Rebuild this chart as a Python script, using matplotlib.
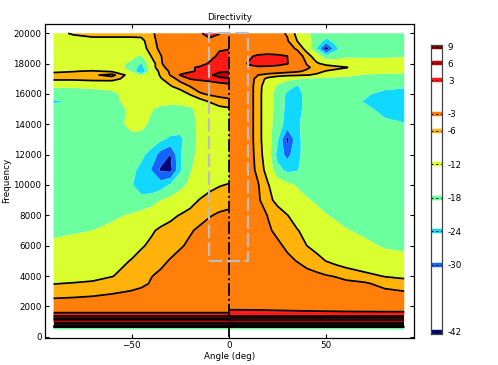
import numpy as np
import matplotlib
matplotlib.use("Agg")
import matplotlib.pyplot as plt

# ---------------- data ----------------
levels = [-42, -30, -24, -18, -12, -6, -3, 3, 6, 9]
level_labels = ["-42", "-30", "-24", "-18", "-12", "-6", "-3", "3", "6", "9"]
level_colors = ["#00087A", "#1464FF", "#10D8FF", "#6BFF9E", "#DAFF2F",
                "#FFB30A", "#FF7F0A", "#FF1A14", "#C00000", "#7F0000"]
line_levels = [-6, -3, 3, 6, 9]

angles_left = [-90, -80, -70, -60, -50, -45, -40, -35, -30, -25, -20, -15, -10, -5, 0]
angles_right = [0, 5, 10, 15, 20, 25, 30, 35, 40, 45, 50, 55, 60, 70, 80, 90]

freqs_upper = [20000, 19500, 19000, 18500, 18000, 17750, 17500, 17250, 17000, 16500,
               16000, 15500, 15000, 14000, 13000, 12000, 11000, 10000, 9000, 8000,
               7000, 6000, 5000, 4000, 3500, 3000, 2500, 2000, 1750]

db_left_upper = [
    [-7.5, -5.5, -5, -5, -5, -5, -4, -1, 0, 0.5, 1, 2.5, 4.5, 3.2, 1],          # 20000
    [-9, -8, -7, -7, -7, -6.8, -4.5, -1.5, 0, 0.5, 1, 1.5, 2, 1.5, 0.5],        # 19500
    [-9, -9, -9, -9, -8.5, -7.2, -5, -2, 0, 0.5, 1, 1.5, 2, 2.5, 2.8],          # 19000
    [-9, -9, -9, -9.5, -11, -12.5, -6, -3.2, -0.5, 0, 0.5, 1, 1.5, 3.8, 4.5],   # 18500
    [-9, -9, -9, -10, -12.8, -18.5, -8, -3.5, -0.5, 0, 0.5, 1.5, 3.5, 5, 5.5],  # 18000
    [-9, -9, -9, -10, -13.2, -21, -7.5, -4.2, -1.5, 1, 2.5, 3.5, 4.5, 5, 5.5],  # 17750
    [-6.8, -6.2, -5.6, -6.5, -12.5, -25, -9, -5, -2.5, 0.5, 2.5, 3.5, 4.5, 5.5, 5.8],  # 17500
    [-4.5, -4.5, -3.5, -2, -8, -12.5, -9, -5.5, -2.8, 3.5, 4.5, 5, 5.5, 7, 7.5],  # 17250
    [-5.0, -5.0, -4.5, -4.5, -8, -9.5, -9, -6.3, -4.2, -2, 3.3, 4, 4.5, 5.2, 5.8],  # 17000
    [-11.5, -11.5, -11, -10.5, -9, -9, -8.5, -8, -6.3, -4.5, -3, -1, 0, 1, 1.5],  # 16500
    [-14, -14, -14, -13, -10, -9.5, -9.5, -10, -9, -8, -5.7, -3.5, -2.5, -2, -1.5],  # 16000
    [-19, -17, -15, -13.5, -10, -9, -9, -10, -10.5, -10, -9, -7.5, -5.8, -4.5, -4],  # 15500
    [-15, -17, -16, -14.5, -11, -10, -11.5, -13.5, -14, -14, -13, -10.5, -8.5, -7, -6.5],  # 15000
    [-15, -15.5, -16, -14.5, -10.5, -10.5, -13, -15, -15, -14.5, -13.5, -11, -9.5, -9, -8.5],  # 14000
    [-15, -15, -15.5, -15, -13.5, -14, -15.5, -17, -19, -19.5, -14, -11, -9.5, -9, -8.5],  # 13000
    [-15, -15, -15, -15.5, -16, -17, -19.5, -26.5, -30.2, -18.5, -13, -11, -9.5, -9, -8.5],  # 12000
    [-15, -15, -15, -15.5, -17, -19, -24, -31, -32, -19, -12.5, -10, -9, -8.5, -8],  # 11000
    [-15, -15, -15, -15.5, -17.5, -21, -22, -21, -17, -13.5, -11, -8.5, -7, -6.2, -5.8],  # 10000
    [-15, -15, -14.5, -14, -16, -16, -15, -12, -10.5, -9, -7.5, -5.8, -4.8, -4.4, -4.2],  # 9000
    [-14.5, -14, -13.5, -12.8, -11.5, -10, -8.5, -7.5, -6.8, -5.8, -4.8, -4, -3.2, -2.6, -2.2],  # 8000
    [-13, -12.5, -12, -11, -9.5, -8, -6.4, -5.5, -4.8, -4, -3.3, -2.5, -1.8, -1.2, -1],  # 7000
    [-11, -10.5, -10, -9, -7.5, -6.3, -5.5, -4.8, -4, -3.3, -2.5, -1.8, -1, -0.5, 0],  # 6000
    [-9.5, -9, -8.5, -7.5, -5.8, -5, -4.3, -3.6, -2.8, -2, -1.5, -1, -0.5, 0, 0],  # 5000
    [-8, -7.5, -7, -6.1, -5, -4, -3.1, -2.5, -2, -1.5, -1, -0.5, 0, 0, 0],  # 4000
    [-6.1, -5.8, -5.5, -5, -4.2, -3.6, -2.8, -2.3, -1.8, -1.3, -0.9, -0.5, 0, 0, 0],  # 3500
    [-4.7, -4.5, -4, -3.5, -2.9, -2.5, -2, -1.5, -1.2, -0.9, -0.6, -0.3, 0, 0, 0],  # 3000
    [-2.9, -2.7, -2.5, -2.1, -1.6, -1.3, -1, -0.8, -0.6, -0.4, -0.2, 0, 0, 0, 0],  # 2500
    [-1, -1, -0.8, -0.6, -0.5, -0.4, -0.3, -0.2, -0.1, 0, 0, 0, 0, 0, 0],  # 2000
    [0.5, 0.5, 0.5, 0.5, 0.5, 0.5, 0.5, 0.5, 0.5, 0.5, 0.5, 0.5, 0.5, 0.5, 0.5],  # 1750
]

db_right_upper = [
    [0, -0.3, -0.5, -1, -1.5, -2.2, -3.3, -7, -11, -14, -15, -15, -15, -15, -15, -15],  # 20000
    [0, 0, -0.5, -1, -1.3, -1.8, -2.7, -6, -9.5, -15, -19.5, -16, -15, -15, -15, -15],  # 19500
    [0.5, 0.5, 0.5, 0.5, 0, -0.5, -1.5, -3.5, -7.5, -18, -34, -19, -15, -15, -15, -15],  # 19000
    [1, 1.5, 2.5, 3.5, 4, 3.8, 3, -1, -4.5, -8, -16, -15, -13, -13, -13, -12.5],  # 18500
    [1.5, 2, 3.2, 4.5, 5, 4.5, 3.2, 0, -3.2, -5.5, -7, -8, -8.5, -9, -9, -9],  # 18000
    [1, 1.5, 2.5, 2.5, 2, 1.5, 0.5, -1, -2.5, -4, -4.5, -5, -5.8, -8, -8.5, -8.5],  # 17750
    [0.5, 0.5, 0, -0.5, -1, -1.5, -2, -2.5, -3.5, -5, -6.2, -7, -7.5, -9, -10, -10.5],  # 17500
    [0, 0, -1, -3, -4, -4.5, -5, -5.3, -5.8, -6.5, -8, -9, -10, -12.5, -13, -13],  # 17250
    [0, 0, -1.5, -4, -7, -9, -10.5, -11.5, -12.5, -13, -13.5, -14, -14, -14, -14, -14],  # 17000
    [0, 0, -1.5, -4.5, -8.5, -13, -16, -18.5, -16, -15, -15, -15, -15, -15.5, -16, -17],  # 16500
    [0, 0, -1.5, -4.5, -9, -14, -19, -20, -16, -15, -15, -15, -15.5, -17, -20, -21],  # 16000
    [0, 0, -1.5, -4.5, -9, -14.5, -19.5, -20, -16, -15, -15, -15, -15.5, -18.5, -21.5, -22],  # 15500
    [0, 0, -1.5, -4.5, -9, -14.5, -19.5, -20, -16, -15, -15, -15, -15, -16.5, -20, -22],  # 15000
    [0, 0, -1.5, -4.5, -9, -15.5, -20, -19, -15.5, -15, -15, -15, -15, -15.5, -16.5, -17.5],  # 14000
    [0, 0, -1.5, -4.5, -9, -17, -32, -19.5, -15.5, -15, -15, -15, -15, -15, -15, -15],  # 13000
    [0, 0, -1.5, -4.2, -8.5, -20, -26, -19.5, -15.5, -15, -15, -15, -15, -15, -15, -15],  # 12000
    [0, 0, -1.5, -3.8, -7.5, -16, -19.5, -18.5, -15, -14.5, -15, -15, -15, -15, -15, -15],  # 11000
    [0, 0, -1.2, -2.8, -5.7, -8.5, -10.5, -12.5, -14, -14.5, -15, -15, -15, -15, -15, -15],  # 10000
    [0, 0, -1, -2.5, -5, -7, -8.5, -9.8, -11.5, -12.8, -14, -14.5, -15, -15, -15, -15],  # 9000
    [0, 0, -0.5, -1.8, -3.1, -4.5, -5.9, -7.5, -9, -10.3, -11.8, -12.8, -13.5, -14.5, -15, -15],  # 8000
    [0, 0, 0, -1.5, -2.6, -3.6, -4.6, -5.8, -7, -8, -9.2, -10.5, -11.7, -13, -13.5, -14],  # 7000
    [0, 0, 0, -0.5, -1.5, -2.5, -3.5, -4.5, -6, -7, -8, -8.8, -9.5, -11, -12.5, -13],  # 6000
    [0, 0, 0, 0, -0.8, -1.8, -2.4, -3.1, -4, -5, -6.1, -7, -7.8, -9, -10, -10.5],  # 5000
    [0, 0, 0, 0, -0.3, -0.6, -1, -1.5, -2, -2.3, -2.8, -3.2, -3.8, -5, -6.2, -6.8],  # 4000
    [0, 0, 0, 0, 0, -0.3, -0.5, -0.8, -1.1, -1.3, -1.5, -1.8, -2.3, -2.6, -4, -4.5],  # 3500
    [0, 0, 0, 0, 0, 0, -0.2, -0.4, -0.6, -0.8, -1, -1.2, -1.5, -2, -2.5, -3],  # 3000
    [0, 0, 0, 0, 0, 0, 0, 0, -0.2, -0.3, -0.4, -0.5, -0.6, -0.8, -1, -1.2],  # 2500
    [0.5, 0.5, 0.5, 0.5, 0.5, 0.5, 0.5, 0.5, 0.4, 0.3, 0.2, 0, 0, 0, 0, 0],  # 2000
    [3.3, 3.3, 3.2, 3.1, 3, 2.9, 2.8, 2.7, 2.6, 2.5, 2.4, 2.3, 2.2, 2.1, 2, 2],  # 1750
]

# low-frequency stripes (same across all angles)
stripe_freqs = [1450, 1300, 1150, 1000, 850, 700, 600, 480]
stripe_db = [5, 6.8, 5.5, 8, 10, 6.5, -11, -16]

xticks = [-50, 0, 50]
yticks = [0, 2000, 4000, 6000, 8000, 10000, 12000, 14000, 16000, 18000, 20000]
box_angles = (-10, 10)
box_freqs = (5000, 20000)
axis_line_freqs = (0, 20000)

# ---------------- figure ----------------
FS = 6.3
fig = plt.figure(figsize=(4.98, 3.65), dpi=100)
ax = fig.add_axes([45 / 498, (365 - 337.5) / 365, 369 / 498, 313.2 / 365])

fill_levels = levels + [20]
freqs_all = np.array(freqs_upper + stripe_freqs, dtype=float)


def build(upper, ncols):
    up = np.array(upper, dtype=float)
    low = np.tile(np.array(stripe_db, dtype=float)[:, None], (1, ncols))
    return np.vstack([up, low])


for angs, upper in ((angles_left, db_left_upper), (angles_right, db_right_upper)):
    Z = build(upper, len(angs))
    A, F = np.meshgrid(np.array(angs, dtype=float), freqs_all)
    ax.contourf(A, F, Z, levels=fill_levels, colors=level_colors, antialiased=True)
    ax.contour(A, F, Z, levels=line_levels, colors="k", linewidths=1.25,
               linestyles="solid", negative_linestyles="solid")

# center dash-dot line
ax.plot([0, 0], list(axis_line_freqs), color="k", lw=1.3,
        linestyle=(0, (7, 1.6, 1.2, 1.6)), zorder=5)
# dashed rectangle
bx = [box_angles[0], box_angles[1], box_angles[1], box_angles[0], box_angles[0]]
by = [box_freqs[0], box_freqs[0], box_freqs[1], box_freqs[1], box_freqs[0]]
ax.plot(bx, by, color="#BDBDBD", lw=1.6, linestyle=(0, (6, 2)), zorder=6)

ax.set_xlim(-94.4, 95.0)
ax.set_ylim(-53, 20593)
ax.set_xticks(xticks)
ax.set_yticks(yticks)
ax.tick_params(direction="in", top=True, right=True, length=3, width=0.8,
               labelsize=FS, pad=2.5)
for s in ax.spines.values():
    s.set_linewidth(0.9)
ax.set_title("Directivity", fontsize=FS, pad=3.0)
ax.set_xlabel("Angle (deg)", fontsize=FS, labelpad=1.5)
ax.set_ylabel("Frequency", fontsize=FS, labelpad=2)

# ---------------- legend bar ----------------
cax = fig.add_axes([430.7 / 498, (365 - 334) / 365, 11.6 / 498, 289 / 365])
cax.set_xlim(0, 1)
cax.set_ylim(-42.36, 9.3)
for lv, c in zip(levels, level_colors):
    cax.axhline(lv, color=c, lw=3.2)
    cax.axhline(lv, color="k", lw=0.7, linestyle=(0, (2, 3)))
cax.set_xticks([])
cax.yaxis.tick_right()
cax.set_yticks(levels)
cax.set_yticklabels(level_labels)
cax.tick_params(axis="y", length=0, labelsize=FS, pad=4)
for s in cax.spines.values():
    s.set_linewidth(0.9)
    s.set_color("#444444")

fig.savefig("out.png", dpi=100)
